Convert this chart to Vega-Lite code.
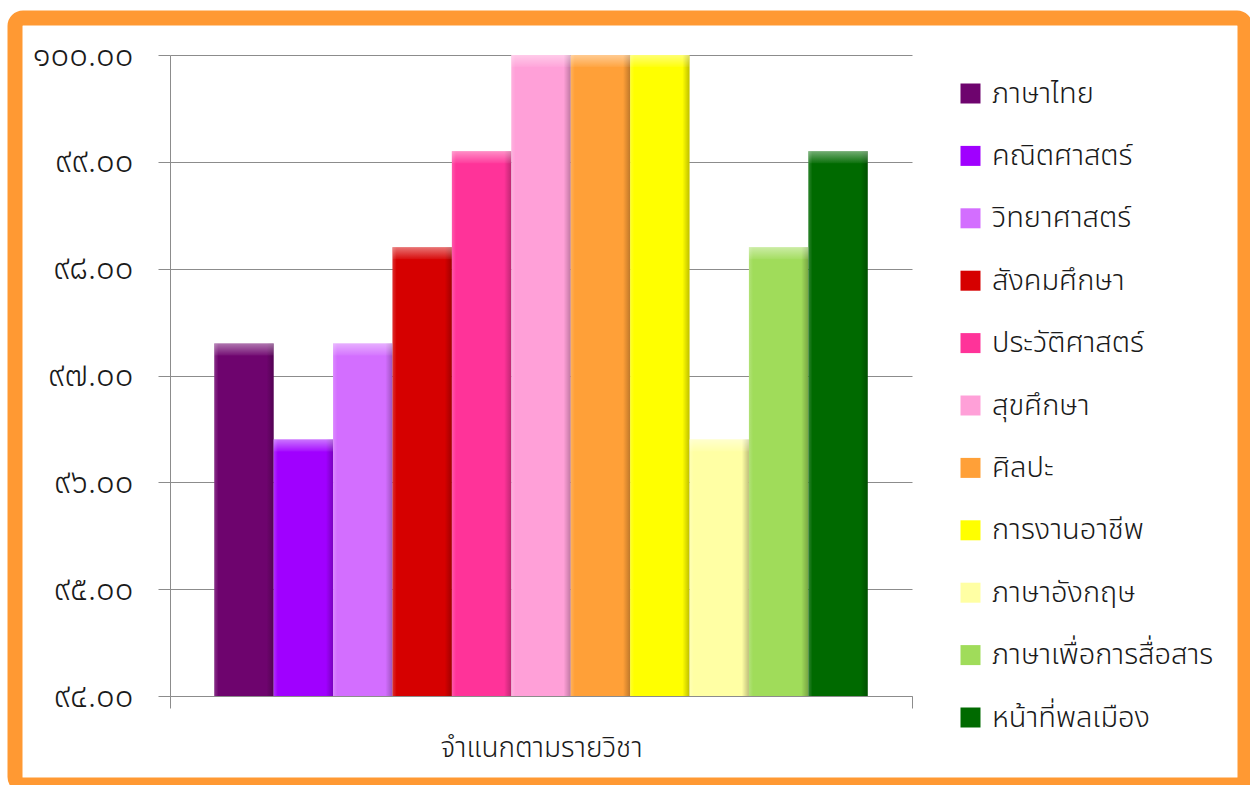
{
  "$schema": "https://vega.github.io/schema/vega-lite/v6.json",
  "width": 1230,
  "height": 767,
  "autosize": {"type": "none"},
  "padding": {"left": 15, "top": 18, "right": 5, "bottom": 0},
  "background": "white",
  "config": {
    "font": "Noto Sans Thai",
    "view": {"fill": "white", "stroke": "#FF9933", "strokeWidth": 15, "cornerRadius": 8}
  },
  "data": {
    "values": [
      {"group": "จำแนกตามรายวิชา", "subject": "ภาษาไทย", "score": 97.30},
      {"group": "จำแนกตามรายวิชา", "subject": "คณิตศาสตร์", "score": 96.40},
      {"group": "จำแนกตามรายวิชา", "subject": "วิทยาศาสตร์", "score": 97.30},
      {"group": "จำแนกตามรายวิชา", "subject": "สังคมศึกษา", "score": 98.20},
      {"group": "จำแนกตามรายวิชา", "subject": "ประวัติศาสตร์", "score": 99.10},
      {"group": "จำแนกตามรายวิชา", "subject": "สุขศึกษา", "score": 100.00},
      {"group": "จำแนกตามรายวิชา", "subject": "ศิลปะ", "score": 100.00},
      {"group": "จำแนกตามรายวิชา", "subject": "การงานอาชีพ", "score": 100.00},
      {"group": "จำแนกตามรายวิชา", "subject": "ภาษาอังกฤษ", "score": 96.40},
      {"group": "จำแนกตามรายวิชา", "subject": "ภาษาเพื่อการสื่อสาร", "score": 98.20},
      {"group": "จำแนกตามรายวิชา", "subject": "หน้าที่พลเมือง", "score": 99.10}
    ]
  },
  "encoding": {
    "x": {
      "field": "group", "type": "nominal", "title": null,
      "scale": {"range": [155, 897], "paddingInner": 0, "paddingOuter": 0},
      "axis": {
        "offset": -89, "tickBand": "extent", "tickSize": 12, "tickColor": "#8c8c8c",
        "domainColor": "#8c8c8c", "labelAngle": 0, "labelFontSize": 28, "labelFontWeight": 300, "labelColor": "#1a1a1a",
        "labelPadding": 26, "labelLimit": 600, "grid": false
      }
    },
    "xOffset": {
      "field": "subject", "type": "nominal",
      "sort": ["ภาษาไทย", "คณิตศาสตร์", "วิทยาศาสตร์", "สังคมศึกษา", "ประวัติศาสตร์", "สุขศึกษา", "ศิลปะ", "การงานอาชีพ", "ภาษาอังกฤษ", "ภาษาเพื่อการสื่อสาร", "หน้าที่พลเมือง"],
      "scale": {"paddingInner": 0, "paddingOuter": 0.745}
    },
    "y": {
      "field": "score", "type": "quantitative", "title": null,
      "scale": {"domain": [94, 100], "range": [678, 37], "zero": false, "nice": false},
      "axis": {
        "offset": -155, "values": [94, 95, 96, 97, 98, 99, 100],
        "labelExpr": "replace(replace(replace(replace(replace(replace(replace(replace(replace(replace(format(datum.value, '.2f'), regexp('0','g'), '๐'), regexp('1','g'), '๑'), regexp('2','g'), '๒'), regexp('3','g'), '๓'), regexp('4','g'), '๔'), regexp('5','g'), '๕'), regexp('6','g'), '๖'), regexp('7','g'), '๗'), regexp('8','g'), '๘'), regexp('9','g'), '๙')",
        "labelFontSize": 33, "labelFontWeight": 300, "labelColor": "#1a1a1a", "labelPadding": 25,
        "tickSize": 12, "tickColor": "#8c8c8c", "domainColor": "#8c8c8c",
        "grid": true, "gridColor": "#8c8c8c", "gridWidth": 1
      }
    }
  },
  "layer": [
    {
      "mark": {"type": "bar"},
      "encoding": {
        "y2": {"datum": 94},
        "color": {
          "field": "subject", "type": "nominal",
          "sort": ["ภาษาไทย", "คณิตศาสตร์", "วิทยาศาสตร์", "สังคมศึกษา", "ประวัติศาสตร์", "สุขศึกษา", "ศิลปะ", "การงานอาชีพ", "ภาษาอังกฤษ", "ภาษาเพื่อการสื่อสาร", "หน้าที่พลเมือง"],
          "scale": {
            "domain": ["ภาษาไทย", "คณิตศาสตร์", "วิทยาศาสตร์", "สังคมศึกษา", "ประวัติศาสตร์", "สุขศึกษา", "ศิลปะ", "การงานอาชีพ", "ภาษาอังกฤษ", "ภาษาเพื่อการสื่อสาร", "หน้าที่พลเมือง"],
            "range": ["#6E046E", "#A000FF", "#D36EFF", "#D60000", "#FF3399", "#FFA0D8", "#FFA038", "#FFFF00", "#FFFFA4", "#A0DC5A", "#006A00"]
          },
          "legend": {
            "orient": "none", "legendX": 941, "legendY": 61, "title": null,
            "symbolType": "square", "symbolSize": 400, "symbolStrokeWidth": 0, "symbolOpacity": 1,
            "labelFontSize": 29, "labelFontWeight": 300, "labelColor": "#1a1a1a", "labelOffset": 7, "rowPadding": 32.4,
            "labelLimit": 400
          }
        }
      }
    },
    {
      "mark": {
        "type": "bar",
        "color": {
          "gradient": "linear", "x1": 0, "x2": 1, "y1": 0, "y2": 0,
          "stops": [
            {"offset": 0, "color": "rgba(255,255,255,0.18)"},
            {"offset": 0.07, "color": "rgba(255,255,255,0)"},
            {"offset": 0.88, "color": "rgba(0,0,0,0)"},
            {"offset": 1, "color": "rgba(0,0,0,0.25)"}
          ]
        }
      },
      "encoding": {"y2": {"datum": 94}}
    },
    {
      "mark": {
        "type": "bar",
        "y2Offset": 12,
        "color": {
          "gradient": "linear", "x1": 0, "x2": 0, "y1": 0, "y2": 1,
          "stops": [
            {"offset": 0, "color": "rgba(255,255,255,0.45)"},
            {"offset": 1, "color": "rgba(255,255,255,0.05)"}
          ]
        }
      },
      "encoding": {"y2": {"field": "score"}}
    }
  ]
}
